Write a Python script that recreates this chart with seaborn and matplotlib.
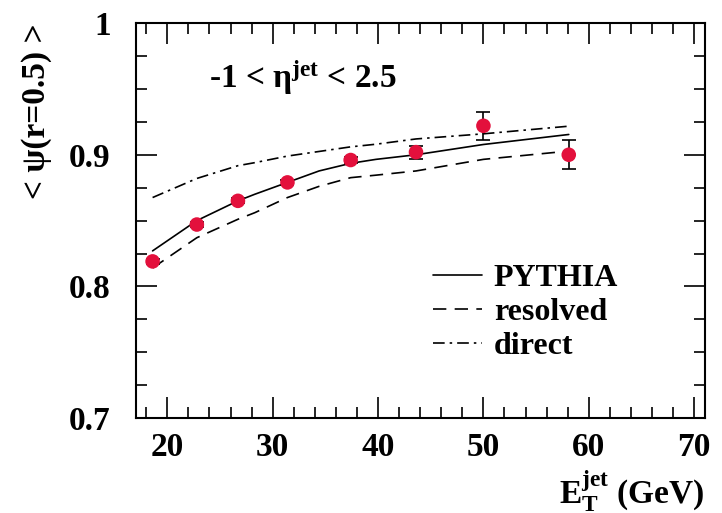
import seaborn as sns
import numpy as np
import pandas as pd
import matplotlib.pyplot as plt
from matplotlib.ticker import MultipleLocator

# measured points
et_data = [18.6, 22.8, 26.7, 31.4, 37.4, 43.6, 50.0, 58.1]
psi_data = [0.819, 0.847, 0.865, 0.879, 0.896, 0.902, 0.922, 0.900]
psi_err = [0.002, 0.002, 0.002, 0.002, 0.002, 0.005, 0.0105, 0.011]

# model curves
et_curve = [18.6, 22.8, 26.7, 28.3, 31.4, 34.4, 37.4, 39.8, 43.6, 50.0, 58.1]
pythia = [0.827, 0.850, 0.865, 0.870, 0.879, 0.8877, 0.8935, 0.8965, 0.900, 0.9078, 0.9154]
resolved = [0.814, 0.837, 0.851, 0.856, 0.8675, 0.876, 0.8826, 0.8845, 0.8877, 0.8965, 0.9028]
direct = [0.8675, 0.882, 0.8917, 0.894, 0.899, 0.9025, 0.906, 0.908, 0.912, 0.9159, 0.9217]

sns.set_style('ticks')
plt.rcParams['font.family'] = ['Liberation Serif', 'DejaVu Serif']
plt.rcParams['font.weight'] = 'bold'
plt.rcParams['axes.labelweight'] = 'bold'
plt.rcParams['text.color'] = 'black'
plt.rcParams['axes.labelcolor'] = 'black'
plt.rcParams['mathtext.fontset'] = 'custom'
plt.rcParams['mathtext.rm'] = 'Liberation Serif:bold'
plt.rcParams['mathtext.bf'] = 'Liberation Serif:bold'
plt.rcParams['mathtext.it'] = 'Liberation Serif:bold'

df_curves = pd.DataFrame({'Et': et_curve, 'PYTHIA': pythia,
                          'resolved': resolved, 'direct': direct})
df_data = pd.DataFrame({'Et': et_data, 'psi': psi_data, 'err': psi_err})

fig = plt.figure(figsize=(7.22, 5.13), dpi=100)
ax = fig.add_axes([0.188, 0.185, 0.788, 0.770])

sns.lineplot(x='Et', y='PYTHIA', data=df_curves, ax=ax, color='black', lw=1.2,
             linestyle='-', label='PYTHIA')
sns.lineplot(x='Et', y='resolved', data=df_curves, ax=ax, color='black', lw=1.2,
             linestyle=(0, (8, 5)), label='resolved')
sns.lineplot(x='Et', y='direct', data=df_curves, ax=ax, color='black', lw=1.2,
             linestyle=(0, (7, 3, 1.5, 3)), label='direct')

ax.errorbar(df_data['Et'], df_data['psi'], yerr=df_data['err'], fmt='none',
            ecolor='black', elinewidth=1.2, capsize=5, capthick=1.2, zorder=3)
sns.scatterplot(x='Et', y='psi', data=df_data, ax=ax, color='#e3103c', s=110,
                edgecolor='none', zorder=4, legend=False)

ax.set_xlim(17, 71)
ax.set_ylim(0.7, 1.0)
ax.xaxis.set_major_locator(MultipleLocator(10))
ax.xaxis.set_minor_locator(MultipleLocator(2))
ax.yaxis.set_major_locator(MultipleLocator(0.1))
ax.yaxis.set_minor_locator(MultipleLocator(0.025))
ax.yaxis.set_major_formatter(plt.FuncFormatter(lambda v, p: '1' if abs(v - 1) < 1e-6 else f'{v:.1f}'))
ax.tick_params(which='both', direction='in', top=True, right=True, width=1.2,
               labelsize=24, colors='black')
ax.tick_params(which='major', length=15)
ax.tick_params(which='minor', length=8)
ax.tick_params(axis='y', pad=18)
ax.tick_params(axis='x', pad=10)
for sp in ax.spines.values():
    sp.set_linewidth(1.5)
    sp.set_color('black')

ax.set_ylabel('< ψ(r=0.5) >', fontsize=24, loc='top', labelpad=12)
ax.set_xlabel('E$_\\mathrm{T}^\\mathrm{jet}$ (GeV)', fontsize=24, loc='right', labelpad=4)

ax.text(24.0, 0.959, '-1 < η$^{\\mathrm{jet}}$ < 2.5', fontsize=24, fontweight='bold',
        va='center', ha='left')

ax.legend(loc='upper left', bbox_to_anchor=(0.5, 0.424), frameon=False,
          fontsize=23, handlelength=1.55, handletextpad=0.35, labelspacing=0.15,
          borderaxespad=0)

sns.despine(ax=ax, top=False, right=False)
fig.savefig('out.png', dpi=100)
